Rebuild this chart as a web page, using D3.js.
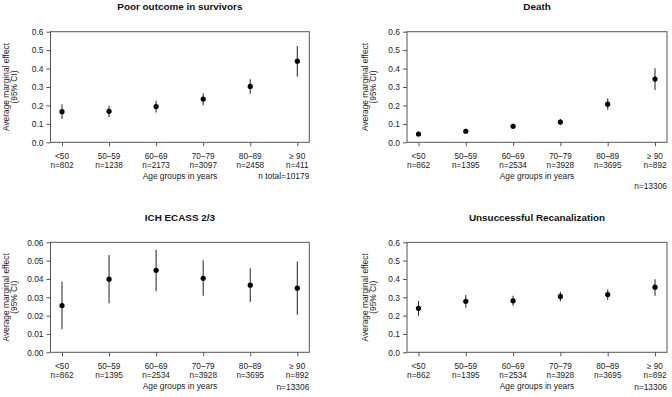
<!DOCTYPE html>
<html><head><meta charset="utf-8">
<script src="https://cdn.jsdelivr.net/npm/d3@7"></script>
<style>body{margin:0;background:#fff}svg{display:block;font-family:"Liberation Sans",Arial,sans-serif}</style>
</head><body><svg id="c" width="672" height="397"></svg>
<script>
const categories = ["<50","50–59","60–69","70–79","80–89","≥ 90"];
const nPoor = [802,1238,2173,3097,2458,411];
const nAll = [862,1395,2534,3928,3695,892];

const poorEst = [0.166,0.168,0.194,0.235,0.303,0.440];
const poorLo  = [0.127,0.136,0.161,0.201,0.264,0.357];
const poorHi  = [0.207,0.198,0.226,0.266,0.342,0.523];

const deathEst = [0.045,0.060,0.087,0.110,0.207,0.343];
const deathLo  = [0.032,0.049,0.073,0.094,0.177,0.284];
const deathHi  = [0.058,0.073,0.100,0.126,0.238,0.402];

const ichEst = [0.0255,0.0399,0.0447,0.0404,0.0366,0.0350];
const ichLo  = [0.0126,0.0268,0.0333,0.0308,0.0274,0.0205];
const ichHi  = [0.0386,0.0531,0.0560,0.0502,0.0458,0.0495];

const unsEst = [0.240,0.278,0.281,0.305,0.315,0.355];
const unsLo  = [0.199,0.243,0.254,0.277,0.285,0.309];
const unsHi  = [0.281,0.313,0.308,0.330,0.342,0.399];

const ticksA = [0,0.1,0.2,0.3,0.4,0.5,0.6];
const ticksB = [0,0.01,0.02,0.03,0.04,0.05,0.06];

const panels = [
  {title:"Poor outcome in survivors", est:poorEst, lo:poorLo, hi:poorHi, n:nPoor, ticks:ticksA, fmt:".1f", total:"n total=10179", totalDy:37,
   L:50.5, T:31.7, R:309.3, B:142.3, yl1:-42},
  {title:"Death", est:deathEst, lo:deathLo, hi:deathHi, n:nAll, ticks:ticksA, fmt:".1f", total:"n=13306", totalDy:47,
   L:407, T:31.7, R:667, B:142.3, yl1:-39},
  {title:"ICH ECASS 2/3", est:ichEst, lo:ichLo, hi:ichHi, n:nAll, ticks:ticksB, fmt:".2f", total:"n=13306", totalDy:37.5,
   L:50.5, T:242.3, R:309.3, B:352.3, yl1:-42},
  {title:"Unsuccessful Recanalization", est:unsEst, lo:unsLo, hi:unsHi, n:nAll, ticks:ticksA, fmt:".1f", total:"n=13306", totalDy:37.5,
   L:407, T:242.3, R:667, B:352.3, yl1:-39}
];

const svg = d3.select("#c");
const txt = "#222", axc = "#555";

panels.forEach(p => {
  const g = svg.append("g");
  const x = d3.scalePoint().domain(categories).range([p.L+11.5, p.R-12]);
  const y = d3.scaleLinear().domain([p.ticks[0], p.ticks[p.ticks.length-1]]).range([p.B, p.T]);

  g.append("rect").attr("x",p.L).attr("y",p.T).attr("width",p.R-p.L).attr("height",p.B-p.T)
    .attr("fill","none").attr("stroke",axc).attr("stroke-width",1);

  const ya = d3.axisLeft(y).tickValues(p.ticks).tickFormat(d3.format(p.fmt)).tickSize(4).tickPadding(3);
  const yg = g.append("g").attr("transform",`translate(${p.L},0)`).call(ya);
  yg.select(".domain").remove();
  yg.selectAll("line").attr("stroke",axc);
  yg.selectAll("text").attr("font-size",8.4).attr("fill",txt).attr("font-family","Liberation Sans, Arial, sans-serif");

  const xa = d3.axisBottom(x).tickSize(4).tickFormat("");
  const xg = g.append("g").attr("transform",`translate(0,${p.B})`).call(xa);
  xg.select(".domain").remove();
  xg.selectAll("line").attr("stroke",axc);

  categories.forEach((c,i) => {
    g.append("text").attr("x",x(c)).attr("y",p.B+16.4).attr("text-anchor","middle")
      .attr("font-size",8.2).attr("fill",txt).text(c);
    g.append("text").attr("x",x(c)).attr("y",p.B+25.7).attr("text-anchor","middle")
      .attr("font-size",8.2).attr("fill",txt).text("n=" + p.n[i]);
  });

  g.append("text").attr("x",(p.L+p.R)/2).attr("y",p.B+37).attr("text-anchor","middle")
    .attr("font-size",8.4).attr("fill",txt).text("Age groups in years");
  g.append("text").attr("x",p.R).attr("y",p.B+p.totalDy).attr("text-anchor","end")
    .attr("font-size",8.4).attr("fill",txt).text(p.total);

  g.append("text").attr("x",(p.L+p.R)/2).attr("y",p.T-21.5).attr("text-anchor","middle")
    .attr("font-size",9.9).attr("font-weight","bold").attr("fill","#111").text(p.title);

  const cy = (p.T+p.B)/2;
  const yt = g.append("text").attr("transform",`translate(${p.L+p.yl1},${cy}) rotate(-90)`).attr("text-anchor","middle")
    .attr("font-size",8.4).attr("fill",txt);
  yt.append("tspan").attr("x",0).attr("y",0).text("Average marginal effect");
  yt.append("tspan").attr("x",0).attr("dy",8.3).text("(95% CI)");

  g.selectAll("line.ci").data(categories).enter().append("line").attr("class","ci")
    .attr("x1",c=>x(c)).attr("x2",c=>x(c))
    .attr("y1",(c,i)=>y(p.lo[i])).attr("y2",(c,i)=>y(p.hi[i]))
    .attr("stroke","#333").attr("stroke-width",1.1);
  g.selectAll("circle").data(categories).enter().append("circle")
    .attr("cx",c=>x(c)).attr("cy",(c,i)=>y(p.est[i])).attr("r",2.6).attr("fill","#000");
});
</script></body></html>
